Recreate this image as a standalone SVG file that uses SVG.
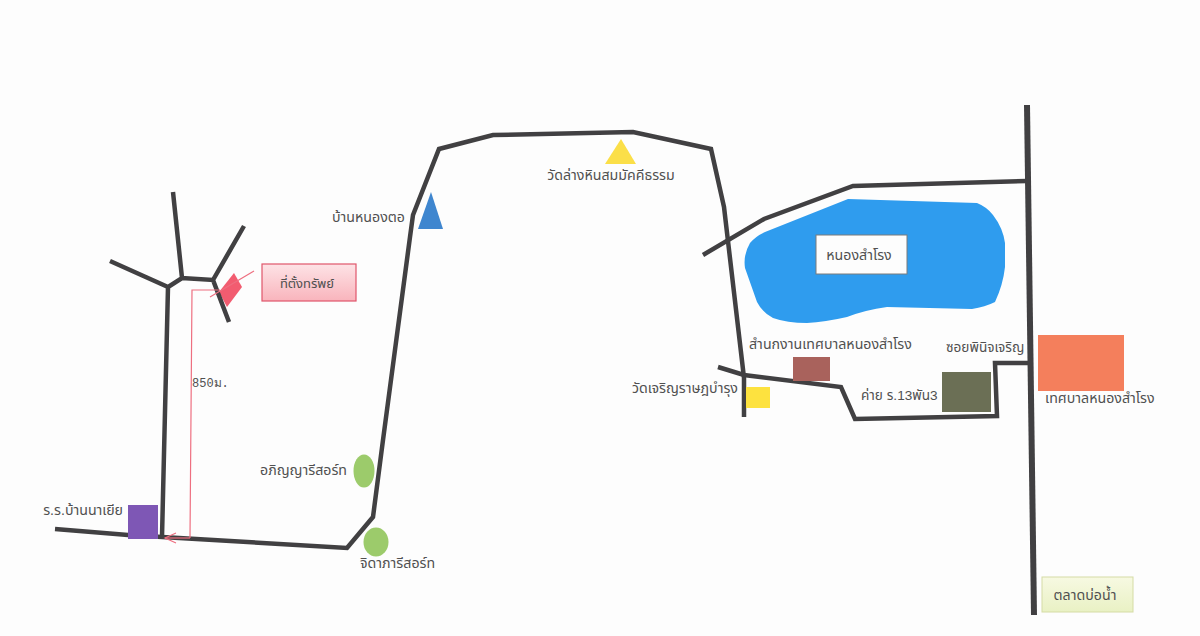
<svg xmlns="http://www.w3.org/2000/svg" width="1200" height="636" viewBox="0 0 1200 636">
<style>
text{font-family:"Liberation Sans","Noto Sans Thai","Noto Sans",sans-serif;font-size:14.2px;fill:#505050}
.road{fill:none;stroke:#414042;stroke-width:4.5;stroke-linejoin:miter}
.red{fill:none;stroke:#ee6f80;stroke-width:1.2}
</style>
<defs>
<linearGradient id="pink" x1="0" y1="0" x2="0" y2="1"><stop offset="0" stop-color="#fde3e6"/><stop offset="1" stop-color="#f9b4bc"/></linearGradient>
<linearGradient id="lime" x1="0" y1="0" x2="0" y2="1"><stop offset="0" stop-color="#f7f9e2"/><stop offset="1" stop-color="#e9f1c4"/></linearGradient>
<marker id="open" markerWidth="14" markerHeight="12" refX="12" refY="6" orient="auto" markerUnits="userSpaceOnUse"><path d="M1 1L12 6L1 11" fill="none" stroke="#ee6f80" stroke-width="1.2"/></marker>
</defs>
<rect width="1200" height="636" fill="#fdfdfd"/>
<g id="lake"><path d="M848 199L977 203Q987 207 993 215Q1003 228 1005 243L1005 267Q1003 285 995 302Q985 307 972 309L887 307Q865 310 847 317Q825 322 807 323Q787 323 773 318Q762 312 757 302L745 268Q743 255 750 243Q756 236 765 232Z" fill="#2f9cee"/>
<rect x="816" y="235" width="91" height="39" fill="#fdfdfd" stroke="#7b7b7b" stroke-width="1"/><text x="859" y="260" text-anchor="middle">หนองสำโรง</text></g>
<g id="site"><polygon points="234,273 242,287 227,307 219,292" fill="#f25c70"/></g>
<g id="connectors">
<path class="road" d="M55 529L128 535L347 548L373 517L383 440L410 237L413 215L439 149L493 135L633 132L711 149L724 207L744 378L744 417"/>
<path class="road" d="M718 367L744 375L841 387L855 419L997 416L995 363L1032 363"/>
<path class="road" d="M703 255L764 219L853 186L1027 181"/>
<path class="road" style="stroke-width:6" d="M1027 105L1034 615"/>
<path class="road" d="M162 537L168 287L182 278L213 280L244 226M213 280L229 322M182 278L173 192M168 287L110 261"/>
<path class="red" d="M220 290L192 290L190 538"/>
<path class="red" d="M190 538L165 538" marker-end="url(#open)"/>
<path class="red" d="M210 297L254 271"/>
</g>
<g id="site-label"><rect x="262" y="264" width="94" height="37" fill="url(#pink)" stroke="#e0566b" stroke-width="1.2"/><text x="307" y="288" text-anchor="middle" style="font-size:13px">ที่ตั้งทรัพย์</text></g>
<g id="distance"><text x="192" y="387" style="font-family:'Liberation Mono',monospace;font-size:12px">850ม.</text></g>
<g id="school"><rect x="128" y="505" width="30" height="34" fill="#7e57b5"/><text x="123" y="515" text-anchor="end">ร.ร.บ้านนาเยีย</text></g>
<g id="resort1"><ellipse cx="364" cy="471" rx="10.5" ry="16.5" fill="#9ccb6b"/><text x="347" y="475" text-anchor="end">อภิญญารีสอร์ท</text></g>
<g id="resort2"><ellipse cx="376" cy="542" rx="12.5" ry="14.5" fill="#9ccb6b"/><text x="360" y="568">จิดาภารีสอร์ท</text></g>
<g id="village"><polygon points="431,192 443,229 418,229" fill="#3f86cf"/><text x="405" y="222" text-anchor="end">บ้านหนองตอ</text></g>
<g id="temple1"><polygon points="621,139 636,164 605,164" fill="#fbdf48"/><text x="611" y="180" text-anchor="middle">วัดล่างหินสมมัคคีธรรม</text></g>
<g id="office"><rect x="793" y="357" width="37" height="24" fill="#a9625c"/><text x="749" y="349">สำนกงานเทศบาลหนองสำโรง</text></g>
<g id="temple2"><rect x="746" y="387" width="24" height="21" fill="#fde23f"/><text x="738" y="393" text-anchor="end">วัดเจริญราษฎบำรุง</text></g>
<g id="camp"><rect x="942" y="372" width="49" height="40" fill="#6b6f55"/><text x="861" y="400" style="font-size:13.6px">ค่าย ร.13พัน3</text></g>
<g id="soi"><text x="946" y="352" style="font-size:13.6px">ซอยพินิจเจริญ</text></g>
<g id="municipality"><rect x="1038" y="335" width="86" height="56" fill="#f47f5c"/><text x="1045" y="403">เทศบาลหนองสำโรง</text></g>
<g id="market"><rect x="1042" y="577" width="91" height="35" fill="url(#lime)" stroke="#d5dca5" stroke-width="1"/><text x="1085" y="600" text-anchor="middle">ตลาดบ่อน้ำ</text></g>
</svg>
